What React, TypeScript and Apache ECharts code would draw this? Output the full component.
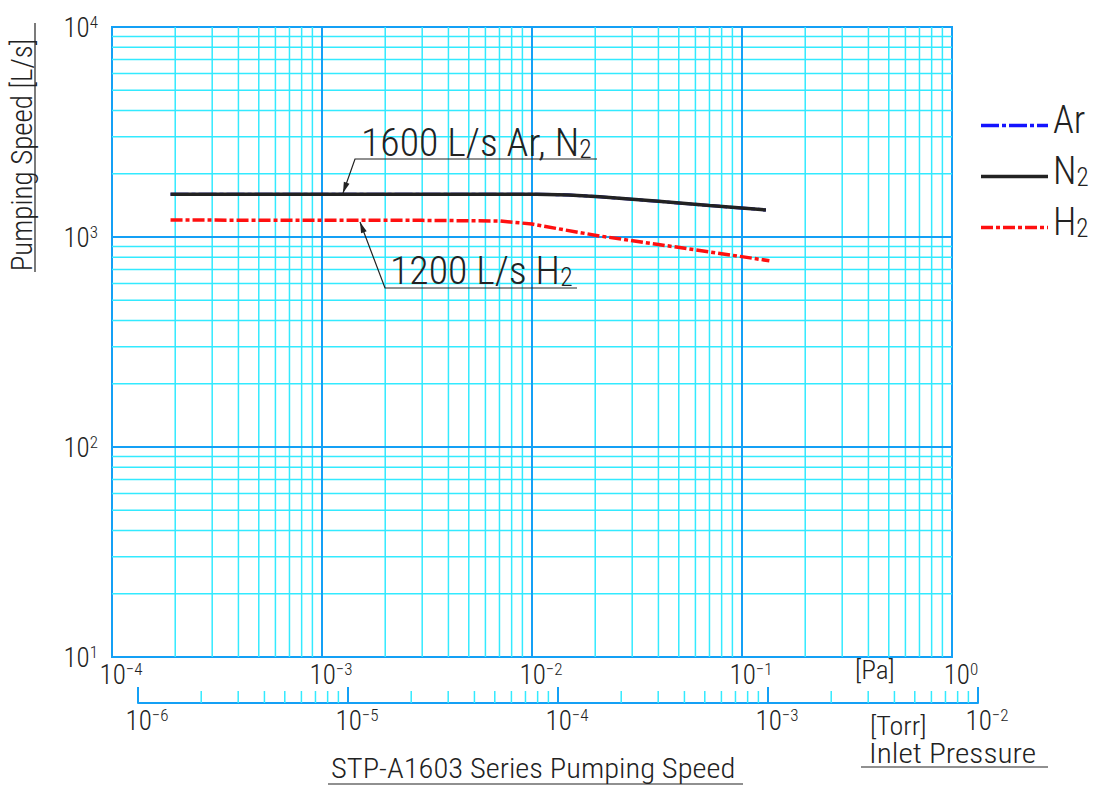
import React, { useEffect, useRef } from "react";
import * as echarts from "echarts";

// ---- data ----
const pressurePaAr = [1.9e-4, 1e-3, 5e-3, 1.05e-2, 1.5e-2, 2.1e-2, 4e-2, 7e-2, 0.13];
const speedAr = [1600, 1600, 1600, 1600, 1585, 1555, 1478, 1412, 1345];
const pressurePaN2 = [1.9e-4, 1e-3, 5e-3, 1.05e-2, 1.5e-2, 2.1e-2, 4e-2, 7e-2, 0.13];
const speedN2 = [1600, 1600, 1600, 1600, 1585, 1555, 1478, 1412, 1345];
const pressurePaH2 = [1.9e-4, 1e-3, 3e-3, 7e-3, 1e-2, 1.4e-2, 2.1e-2, 4e-2, 7e-2, 0.135];
const speedH2 = [1205, 1200, 1200, 1192, 1153, 1085, 1011, 921, 849, 771];

const paDecades = [1e-4, 1e-3, 1e-2, 1e-1, 1];
const torrDecades = [1e-6, 1e-5, 1e-4, 1e-3, 1e-2];
const speedDecades = [10, 100, 1000, 10000];
const minorSteps = [2, 3, 4, 5, 6, 7, 8, 9];

const legendNames = ["Ar", "N2", "H2"];
const titleText = "STP-A1603 Series Pumping Speed";
const yTitle = "Pumping Speed [L/s]";
const xTitle = "Inlet Pressure";
const paUnit = "[Pa]";
const torrUnit = "[Torr]";
const noteN2 = "1600 L/s Ar, N";
const noteH2 = "1200 L/s H";

const FONT =
  "'Roboto Condensed', 'Liberation Sans Narrow', 'DejaVu Sans Condensed', 'Liberation Sans', sans-serif";
const FW = 300;
const BLUE = "#14a0f5";
const CYAN = "#33eaff";
const INK = "#222";
const AR_COLOR = "#1414ff";
const H2_COLOR = "#ff1010";
const AR_DASH = [18, 3, 4, 3];
const H2_DASH = [12, 3, 4, 3];

const minorOf = (decades: number[]) => {
  const out: number[] = [];
  for (let i = 0; i < decades.length - 1; i++) {
    for (const m of minorSteps) out.push(decades[i] * m);
  }
  return out;
};

// vertical / horizontal grid segments as one broken line (gaps via '-')
const vLines = (xs: number[], y0: number, y1: number) =>
  xs.flatMap((x) => [[x, y0], [x, y1], [x, "-"]]);
const hLines = (ys: number[], x0: number, x1: number) =>
  ys.flatMap((y) => [[x0, y], [x1, y], ["-", y]]);

const powLabel = (v: number) => {
  const e = Math.round(Math.log10(v));
  const s = e < 0 ? "\u2212" + -e : String(e);
  return `{b|10}{s|${s}}`;
};

const powRich = {
  b: { fontSize: 27, fontFamily: FONT, fontWeight: FW, color: INK, lineHeight: 28, verticalAlign: "bottom" },
  s: { fontSize: 17, fontFamily: FONT, fontWeight: FW, color: INK, lineHeight: 28, verticalAlign: "top" },
};

const arrowHead = (tail: number[], tip: number[]) => {
  const dx = tip[0] - tail[0];
  const dy = tip[1] - tail[1];
  const L = Math.hypot(dx, dy);
  const ux = dx / L, uy = dy / L;
  const bx = tip[0] - 11 * ux, by = tip[1] - 11 * uy;
  const nx = -uy, ny = ux;
  return [
    [tip[0], tip[1]],
    [bx + 3 * nx, by + 3 * ny],
    [bx - 3 * nx, by - 3 * ny],
  ];
};

const gridSeries = (name: string, data: any[], color: string, width: number, z: number, xi = 0, yi = 0) => ({
  name, type: "line", xAxisIndex: xi, yAxisIndex: yi, z, silent: true,
  showSymbol: false, symbol: "none", connectNulls: false,
  lineStyle: { color, width, type: "solid" },
  emphasis: { disabled: true },
  data,
});

const subText = (main: string, sub: string, big: number, small: number) => ({
  text: `{m|${main}}{sub|${sub}}`,
  rich: {
    m: { fontSize: big, fontFamily: FONT, fontWeight: FW, fill: INK, lineHeight: big, verticalAlign: "bottom" },
    sub: { fontSize: small, fontFamily: FONT, fontWeight: FW, fill: INK, lineHeight: big, verticalAlign: "bottom" },
  },
});

export default function App() {
  const ref = useRef<HTMLDivElement>(null);

  useEffect(() => {
    if (!ref.current) return;
    const chart = echarts.init(ref.current, null, { renderer: "svg" });

    const pMin = paDecades[0], pMax = paDecades[paDecades.length - 1];
    const sMin = speedDecades[0], sMax = speedDecades[speedDecades.length - 1];

    const lineLeader1 = [[597, 159], [355, 159], [343, 193]];
    const lineLeader2 = [[577, 288], [385, 288], [360, 222]];

    const legendItems = [
      { name: legendNames[0], y: 125.5, color: AR_COLOR, dash: AR_DASH, w: 3.5 },
      { name: legendNames[1], y: 176.5, color: INK, dash: null, w: 3.5 },
      { name: legendNames[2], y: 227.5, color: H2_COLOR, dash: H2_DASH, w: 3.5 },
    ];

    const legendGraphics: any[] = [];
    legendItems.forEach((it) => {
      legendGraphics.push({
        type: "line", z: 10,
        shape: { x1: 981, y1: it.y, x2: 1048, y2: it.y },
        style: { stroke: it.color, lineWidth: it.w, lineDash: it.dash || undefined },
      });
      const hasSub = it.name.length > 1 && it.name[1] === "2";
      legendGraphics.push({
        type: "text", x: 1053, y: it.y + 13, z: 10,
        style: {
          ...(hasSub ? subText(it.name[0], "2", 38, 25) : subText(it.name, "", 38, 25)),
          align: "left", verticalAlign: "bottom",
        },
      });
    });

    const option: any = {
      animation: false,
      backgroundColor: "#fff",
      grid: [
        { left: 112, top: 27, width: 840, height: 630, show: true, borderColor: BLUE, borderWidth: 2, backgroundColor: "transparent" },
        { left: 138, top: 691, width: 840, height: 12, show: false },
      ],
      xAxis: [
        {
          type: "log", logBase: 10, gridIndex: 0, min: pMin, max: pMax,
          axisLine: { show: true, lineStyle: { color: BLUE, width: 2 } },
          axisTick: { show: false },
          splitLine: { show: false },
          axisLabel: { show: true, showMinLabel: true, showMaxLabel: true, margin: 3, formatter: powLabel, rich: powRich, padding: [0, 0, 0, 18] },
        },
        {
          type: "log", logBase: 10, gridIndex: 1, min: torrDecades[0], max: torrDecades[torrDecades.length - 1],
          axisLine: { show: true, lineStyle: { color: BLUE, width: 2 } },
          axisTick: { show: true, inside: true, length: 16, lineStyle: { color: BLUE, width: 2 } },
          splitLine: { show: false },
          axisLabel: { show: true, showMinLabel: true, showMaxLabel: true, margin: 3, formatter: powLabel, rich: powRich, padding: [0, 0, 0, 18] },
        },
      ],
      yAxis: [
        {
          type: "log", logBase: 10, gridIndex: 0, min: sMin, max: sMax,
          axisLine: { show: false },
          axisTick: { show: false },
          splitLine: { show: false },
          axisLabel: { show: true, showMinLabel: true, showMaxLabel: true, margin: 14, formatter: powLabel, rich: powRich },
        },
        { type: "value", gridIndex: 1, min: 0, max: 1, show: false },
      ],
      series: [
        gridSeries("minorGrid", [...vLines(minorOf(paDecades), sMin, sMax), ...hLines(minorOf(speedDecades), pMin, pMax)], CYAN, 1.5, 1),
        gridSeries("majorGrid", [...vLines(paDecades.slice(1, -1), sMin, sMax), ...hLines(speedDecades.slice(1, -1), pMin, pMax)], BLUE, 2, 2),
        gridSeries("torrMinor", vLines(minorOf(torrDecades), 0, 1), CYAN, 1.5, 2, 1, 1),
        {
          name: "Ar", type: "line", xAxisIndex: 0, yAxisIndex: 0, z: 3, showSymbol: false, symbol: "none",
          color: AR_COLOR,
          lineStyle: { color: AR_COLOR, width: 3, type: AR_DASH },
          data: pressurePaAr.map((p, i) => [p, speedAr[i]]),
        },
        {
          name: "N2", type: "line", xAxisIndex: 0, yAxisIndex: 0, z: 4, showSymbol: false, symbol: "none",
          color: INK,
          lineStyle: { color: INK, width: 3.5, type: "solid" },
          data: pressurePaN2.map((p, i) => [p, speedN2[i]]),
        },
        {
          name: "H2", type: "line", xAxisIndex: 0, yAxisIndex: 0, z: 5, showSymbol: false, symbol: "none",
          color: H2_COLOR,
          lineStyle: { color: H2_COLOR, width: 3.5, type: H2_DASH },
          data: pressurePaH2.map((p, i) => [p, speedH2[i]]),
        },
      ],
      graphic: [
        // y axis title
        {
          type: "text", x: 22, y: 155, rotation: Math.PI / 2, z: 10,
          style: { text: yTitle, font: `${FW} 29px ${FONT}`, fill: INK, align: "center", verticalAlign: "middle" },
        },
        { type: "line", shape: { x1: 35, y1: 23, x2: 35, y2: 272 }, style: { stroke: INK, lineWidth: 1.2 } },
        // bottom title
        {
          type: "text", x: 331, y: 768, z: 10, scaleX: 1.09,
          style: { text: titleText, font: `${FW} 28px ${FONT}`, fill: INK, align: "left", verticalAlign: "middle" },
        },
        { type: "line", shape: { x1: 328, y1: 784, x2: 743, y2: 784 }, style: { stroke: INK, lineWidth: 1.2 } },
        {
          type: "text", x: 869, y: 753, z: 10, scaleX: 1.12,
          style: { text: xTitle, font: `${FW} 28px ${FONT}`, fill: INK, align: "left", verticalAlign: "middle" },
        },
        { type: "line", shape: { x1: 861, y1: 767, x2: 1048, y2: 767 }, style: { stroke: INK, lineWidth: 1.2 } },
        {
          type: "text", x: 870, y: 726, z: 10, scaleX: 1.08,
          style: { text: torrUnit, font: `${FW} 26px ${FONT}`, fill: INK, align: "left", verticalAlign: "middle" },
        },
        {
          type: "text", x: 855, y: 670, z: 10, scaleX: 1.05,
          style: { text: paUnit, font: `${FW} 26px ${FONT}`, fill: INK, align: "left", verticalAlign: "middle" },
        },
        // annotations
        {
          type: "text", x: 361, y: 162, z: 10, scaleX: 1.02,
          style: { ...subText(noteN2, "2", 39, 25), align: "left", verticalAlign: "bottom" },
        },
        { type: "polyline", z: 10, shape: { points: lineLeader1 }, style: { stroke: INK, lineWidth: 1.2, fill: "none" } },
        { type: "polygon", z: 10, shape: { points: arrowHead(lineLeader1[1], lineLeader1[2]) }, style: { fill: INK } },
        {
          type: "text", x: 390, y: 290, z: 10, scaleX: 1.02,
          style: { ...subText(noteH2, "2", 39, 25), align: "left", verticalAlign: "bottom" },
        },
        { type: "polyline", z: 10, shape: { points: lineLeader2 }, style: { stroke: INK, lineWidth: 1.2, fill: "none" } },
        { type: "polygon", z: 10, shape: { points: arrowHead(lineLeader2[1], lineLeader2[2]) }, style: { fill: INK } },
        ...legendGraphics,
      ],
    };

    chart.setOption(option);
    return () => chart.dispose();
  }, []);

  return (
    <div
      ref={ref}
      style={{ position: "fixed", left: 0, top: 0, width: 1094, height: 787, background: "#fff" }}
    />
  );
}
